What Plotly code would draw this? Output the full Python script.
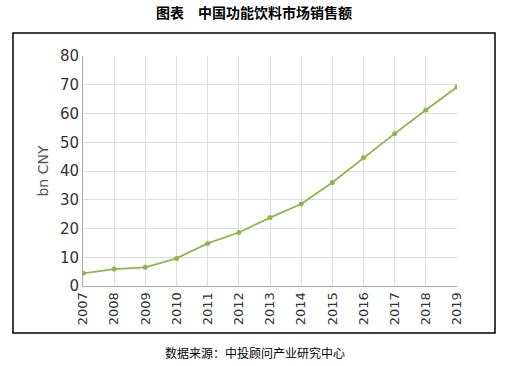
import plotly.graph_objects as go

years = ["2007", "2008", "2009", "2010", "2011", "2012", "2013",
         "2014", "2015", "2016", "2017", "2018", "2019"]
sales = [4.4, 5.9, 6.5, 9.6, 14.8, 18.6, 23.8, 28.5, 36.0, 44.6, 53.0, 61.2, 69.2]
y_ticks = [0, 10, 20, 30, 40, 50, 60, 70, 80]

title_text = "图表　中国功能饮料市场销售额"
source_text = "数据来源：中投顾问产业研究中心"
y_title = "bn CNY"

fig = go.Figure()
fig.add_trace(go.Scatter(
    x=years, y=sales, mode="lines+markers",
    line=dict(color="#8cb64c", width=1.8),
    marker=dict(color="#8cb64c", size=5),
    showlegend=False,
))

W, H = 509, 366
ml, mr, mt, mb = 83, 52, 56, 80
pw, ph = W - ml - mr, H - mt - mb

def px_x(x):
    return (x - ml) / pw

def px_y(y):
    return (H - mb - y) / ph

fig.update_layout(
    width=W, height=H,
    margin=dict(l=ml, r=mr, t=mt, b=mb),
    paper_bgcolor="white", plot_bgcolor="white",
    font=dict(family="DejaVu Sans", color="#333333"),
    xaxis=dict(
        type="category", tickangle=-90,
        showgrid=True, gridcolor="#dddddd", gridwidth=1,
        showline=True, linecolor="#aaaaaa", linewidth=1,
        ticks="", tickfont=dict(size=13, color="#333333"),
        range=[0, len(years) - 1],
        zeroline=False,
    ),
    yaxis=dict(
        range=[0, 80], tickvals=y_ticks,
        showgrid=True, gridcolor="#dddddd", gridwidth=1,
        showline=True, linecolor="#aaaaaa", linewidth=1,
        ticks="", tickfont=dict(size=15, color="#333333"),
        title=dict(text=y_title, font=dict(size=14, color="#555555"), standoff=8),
        zeroline=False,
    ),
    shapes=[
        dict(type="rect", xref="paper", yref="paper",
             x0=px_x(13), x1=px_x(495), y0=px_y(333), y1=px_y(33),
             line=dict(color="black", width=1.5), fillcolor="rgba(0,0,0,0)",
             layer="below"),
    ],
    annotations=[
        dict(text=title_text, xref="paper", yref="paper",
             x=px_x(254), y=px_y(12), xanchor="center", yanchor="middle",
             showarrow=False,
             font=dict(family="Noto Sans CJK SC", size=14, color="black", weight="bold")),
        dict(text=source_text, xref="paper", yref="paper",
             x=px_x(255), y=px_y(352), xanchor="center", yanchor="middle",
             showarrow=False,
             font=dict(family="Noto Sans CJK SC", size=12, color="black")),
    ],
)

fig.write_html("out.html", config={"displayModeBar": False},
               post_script="document.body.style.margin='0px';")
